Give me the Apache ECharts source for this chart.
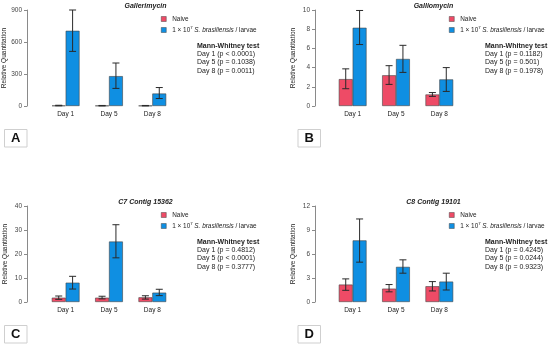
<!DOCTYPE html>
<html><head><meta charset="utf-8">
<script src="https://cdn.jsdelivr.net/npm/echarts@6/dist/echarts.min.js"></script>
<style>html,body{margin:0;padding:0;background:#fff}#c{width:550px;height:346px}</style>
</head><body><div id="c"></div>
<script>
const days = ['Day 1', 'Day 5', 'Day 8'];
const seriesNames = ['Naive', 'Infected'];

// Panel A: Gallerimycin
const gallNaive = [4, 3, 3];
const gallNaiveLo = [2, 1, 1];
const gallNaiveHi = [7, 5, 5];
const gallInf = [705, 280, 117];
const gallInfLo = [512, 165, 70];
const gallInfHi = [900, 403, 173];
const gallP = ['p < 0.0001', 'p = 0.1038', 'p = 0.0011'];

// Panel B: Galliomycin
const galiNaive = [2.8, 3.2, 1.2];
const galiNaiveLo = [1.8, 2.25, 1.0];
const galiNaiveHi = [3.87, 4.2, 1.4];
const galiInf = [8.15, 4.9, 2.77];
const galiInfLo = [6.4, 3.5, 1.52];
const galiInfHi = [9.95, 6.32, 4.0];
const galiP = ['p = 0.1182', 'p = 0.501', 'p = 0.1978'];

// Panel C: C7 Contig 15362
const c7Naive = [1.8, 1.8, 1.95];
const c7NaiveLo = [1.1, 1.3, 1.2];
const c7NaiveHi = [2.5, 2.4, 2.6];
const c7Inf = [8.05, 25.2, 3.9];
const c7InfLo = [5.4, 18.4, 2.65];
const c7InfHi = [10.7, 32.2, 5.3];
const c7P = ['p = 0.4812', 'p < 0.0001', 'p = 0.3777'];

// Panel D: C8 Contig 19101
const c8Naive = [2.18, 1.67, 1.97];
const c8NaiveLo = [1.46, 1.27, 1.38];
const c8NaiveHi = [2.89, 2.18, 2.55];
const c8Inf = [7.7, 4.39, 2.55];
const c8InfLo = [4.98, 3.6, 1.5];
const c8InfHi = [10.38, 5.27, 3.6];
const c8P = ['p = 0.4245', 'p = 0.0244', 'p = 0.9323'];

const titles = ['Gallerimycin', 'Galliomycin', 'C7 Contig 15362', 'C8 Contig 19101'];
const panelLetters = ['A', 'B', 'C', 'D'];
const yMaxes = [900, 10, 40, 12];
const yIntervals = [300, 2, 10, 3];

const panels = [
  {naive: gallNaive, nLo: gallNaiveLo, nHi: gallNaiveHi, inf: gallInf, iLo: gallInfLo, iHi: gallInfHi, p: gallP},
  {naive: galiNaive, nLo: galiNaiveLo, nHi: galiNaiveHi, inf: galiInf, iLo: galiInfLo, iHi: galiInfHi, p: galiP},
  {naive: c7Naive, nLo: c7NaiveLo, nHi: c7NaiveHi, inf: c7Inf, iLo: c7InfLo, iHi: c7InfHi, p: c7P},
  {naive: c8Naive, nLo: c8NaiveLo, nHi: c8NaiveHi, inf: c8Inf, iLo: c8InfLo, iHi: c8InfHi, p: c8P}
];

const FONT = 'Liberation Sans, Arial, sans-serif';
const RED = '#EE4B66';
const BLUE = '#0F8FE2';
const layout = [
  {left: 44, top: 10, off: 17, ox: 0, oy: 0, bx: 0},
  {left: 331, top: 10, off: 16, ox: 288, oy: 0, bx: 293.5},
  {left: 44, top: 206, off: 17, ox: 0, oy: 196, bx: 0},
  {left: 331, top: 206, off: 16, ox: 288, oy: 196, bx: 293.5}
];

const grids = [], xAxes = [], yAxes = [], series = [], legends = [], graphics = [];

function errSeries(gi, lo, hi, side) {
  return {
    type: 'custom', xAxisIndex: gi, yAxisIndex: gi, silent: true, z: 5,
    data: days.map((d, i) => [i, lo[i], hi[i]]),
    encode: {x: 0, y: [1, 2]},
    renderItem: function (params, api) {
      const b = api.coord([api.value(0), api.value(1)]);
      const t = api.coord([api.value(0), api.value(2)]);
      const bw = api.size([1, 0])[0];
      const x = b[0] + side * bw * 0.16;
      const cap = 3.5;
      const st = {stroke: '#2a2a2a', lineWidth: 1};
      return {type: 'group', children: [
        {type: 'line', shape: {x1: x, y1: b[1], x2: x, y2: t[1]}, style: st},
        {type: 'line', shape: {x1: x - cap, y1: t[1], x2: x + cap, y2: t[1]}, style: st},
        {type: 'line', shape: {x1: x - cap, y1: b[1], x2: x + cap, y2: b[1]}, style: st}
      ]};
    }
  };
}

panels.forEach((p, gi) => {
  const L = layout[gi];
  grids.push({left: L.left, top: L.top, width: 130, height: 96, outerBoundsMode: 'none', containLabel: false});
  xAxes.push({
    type: 'category', gridIndex: gi, data: days,
    axisLine: {show: false}, axisTick: {show: false},
    axisLabel: {fontSize: 6.5, color: '#222', fontFamily: FONT, margin: 5}
  });
  yAxes.push({
    type: 'value', gridIndex: gi, min: 0, max: yMaxes[gi], interval: yIntervals[gi],
    offset: L.off,
    name: 'Relative Quantitation', nameLocation: 'middle', nameGap: 18,
    nameTextStyle: {fontSize: 6.5, color: '#222', fontFamily: FONT},
    axisLine: {show: true, lineStyle: {color: '#8a8a8a', width: 1}},
    axisTick: {show: true, length: 3, lineStyle: {color: '#8a8a8a'}},
    axisLabel: {fontSize: 6.5, color: '#444', fontFamily: FONT, margin: 5},
    splitLine: {show: false}
  });
  series.push({
    type: 'bar', name: seriesNames[0], xAxisIndex: gi, yAxisIndex: gi, data: p.naive,
    barWidth: '32%', barGap: '0%',
    itemStyle: {color: RED, borderColor: '#444', borderWidth: 0.6}
  });
  series.push({
    type: 'bar', name: seriesNames[1], xAxisIndex: gi, yAxisIndex: gi, data: p.inf,
    barWidth: '32%', barGap: '0%',
    itemStyle: {color: BLUE, borderColor: '#444', borderWidth: 0.6}
  });
  series.push(errSeries(gi, p.nLo, p.nHi, -1));
  series.push(errSeries(gi, p.iLo, p.iHi, 1));

  legends.push({
    orient: 'vertical', left: 161 + L.ox, top: 16 + L.oy, padding: 0,
    itemWidth: 5, itemHeight: 5, itemGap: 3.5, icon: 'rect',
    data: seriesNames,
    itemStyle: {borderColor: '#444', borderWidth: 0.5},
    textStyle: {fontSize: 6.4, color: '#222', fontFamily: FONT, padding: [0, 0, 0, 1],
      rich: {sup: {fontSize: 4.3, color: '#222', fontFamily: FONT, padding: [0, 0, 5, 0]},
             it: {fontSize: 6.4, fontStyle: 'italic', color: '#222', fontFamily: FONT}}},
    formatter: function (name) {
      return name === 'Naive' ? 'Naive' : '1 \u00d7 10{sup|7}{it| S. brasiliensis} / larvae';
    }
  });

  graphics.push({
    type: 'text', x: 145.5 + L.ox, y: 6 + L.oy,
    style: {text: titles[gi], fontSize: 7, fontWeight: 'bold', fontStyle: 'italic',
      fontFamily: FONT, fill: '#222', textAlign: 'center', textVerticalAlign: 'middle'}
  });
  graphics.push({
    type: 'text', x: 197 + L.ox, y: 41.5 + L.oy,
    style: {
      text: '{b|Mann-Whitney test}\n' + days.map((d, i) => d + ' (' + p.p[i] + ')').join('\n'),
      fontSize: 7, lineHeight: 8.4, fontFamily: FONT, fill: '#222',
      rich: {b: {fontSize: 7, lineHeight: 8.4, fontWeight: 'bold', fontFamily: FONT, fill: '#222'}}
    }
  });
  graphics.push({
    type: 'rect', shape: {x: 4.5 + L.bx, y: 129.5 + L.oy, width: 22.5, height: 17.5},
    style: {fill: '#fff', stroke: '#cfcfcf', lineWidth: 1}
  });
  graphics.push({
    type: 'text', x: 15.8 + L.bx, y: 138.5 + L.oy,
    style: {text: panelLetters[gi], fontSize: 13, fontWeight: 'bold', fontFamily: FONT,
      fill: '#111', textAlign: 'center', textVerticalAlign: 'middle'}
  });
});

const chart = echarts.init(document.getElementById('c'), null, {renderer: 'canvas'});
chart.setOption({
  animation: false,
  backgroundColor: '#fff',
  grid: grids, xAxis: xAxes, yAxis: yAxes, series: series, legend: legends,
  graphic: graphics
});
</script>
</body></html>
